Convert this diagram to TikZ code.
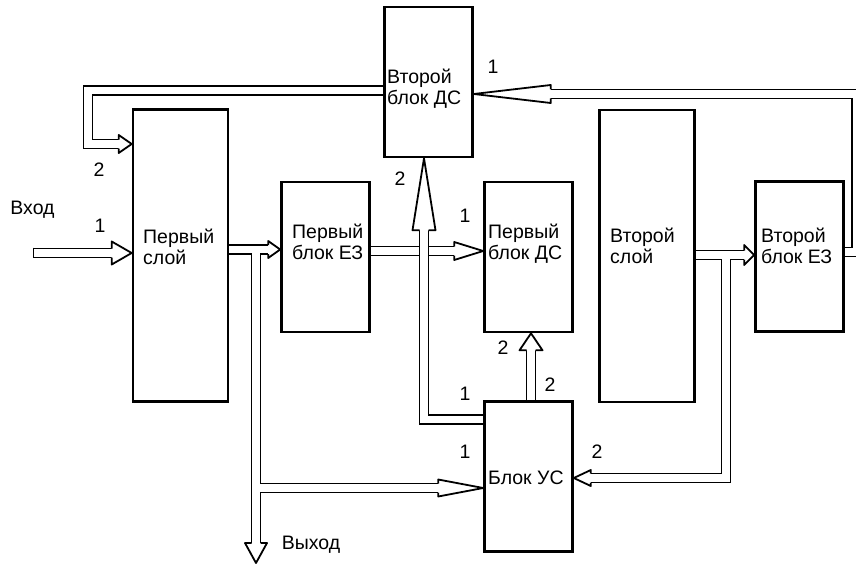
\documentclass[tikz,border=0pt]{standalone}
\usepackage{fontspec}
\setmainfont{Liberation Sans}
\usetikzlibrary{calc}

\newcommand\kanal[1]{\draw[line width=10.8pt] #1; \draw[line width=7.2pt,white] #1;}
\newcommand\golova[4]{\filldraw[kontur,fill=white,line join=round,shift={(#1)},rotate=#2] (-#3,-4.5) -- (-#3,-#4) -- (0,0) -- (-#3,#4) -- (-#3,4.5);}

\begin{document}
\begin{tikzpicture}[x=1pt,y=-1pt,
  blok/.style={draw,line width=2.6pt,minimum width=88pt,minimum height=150pt,inner sep=0pt,outer sep=1.3pt},
  sloj/.style={blok,minimum width=95pt,minimum height=292pt},
  nadp/.style={inner sep=0pt,align=left,anchor=west,font=\fontsize{19.5}{21}\selectfont},
  num/.style={inner sep=0pt,font=\fontsize{19.5}{21}\selectfont},
  kontur/.style={line width=1.8pt}]
\useasboundingbox (0,0) rectangle (856,567);
% bloki
\node[sloj] (sloy1) at (180.5,255.5) {}; \node[blok] (ez1) at (325.5,257) {}; \node[blok] (ds2) at (428.5,82) {};
\node[blok] (ds1) at (528.5,257) {}; \node[sloj] (sloy2) at (647,256) {}; \node[blok] (ez2) at (799.5,256.5) {};
\node[blok] (us) at (528.5,476.5) {};
\node[nadp] (sloy1t) at (143,246.5) {Первый\\слой};
\node[nadp] (ez1t) at (292,241.5) {Первый\\блок ЕЗ};
\node[nadp] (ds2t) at (387,88.5) {Второй\\блок ДС};
\node[nadp] (ds1t) at (488,243.5) {Первый\\блок ДС};
\node[nadp] (sloy2t) at (610,246) {Второй\\слой};
\node[nadp] (ez2t) at (761,246) {Второй\\блок ЕЗ};
\node[nadp] (ust) at (488,477.5) {Блок УС};
% tochki
\coordinate (vhod) at (33,253); \coordinate (vyhod) at (256,563);
\coordinate (t1) at (sloy1.west |- vhod); \coordinate (t2) at (sloy1.west |- 0,144);
\coordinate (t3) at (ez1.west |- 0,249.5); \coordinate (t4) at (us.west |- 0,488);
\coordinate (t5) at (ds1.west |- 0,251); \coordinate (t6) at (424,0 |- ds2.south);
\coordinate (t7) at (ds2.east |- 0,94); \coordinate (t8) at (ez2.west |- 0,255);
\coordinate (t9) at (us.east |- 0,478); \coordinate (t10) at (531,0 |- ds1.south);
% kanaly
\kanal{(vhod) -- ($(t1)+(-20,0)$)}
\draw[kontur] ($(vhod)+(0.5,-5.4)$) -- ($(vhod)+(0.5,5.4)$);
\golova{t1}{0}{20}{11.5}
\kanal{(ds2.west |- 0,90.5) -- (88,90.5) -- (88,144) -- ($(t2)+(-13,0)$)}
\golova{t2}{0}{13}{9}
\kanal{(sloy1.east |- t3) -- ($(t3)+(-12,0)$) (256,249.5) -- ($(vyhod)+(0,-20)$) (256,488) -- ($(t4)+(-45,0)$)}
\golova{t3}{0}{12}{8.5} \golova{vyhod}{270}{20}{11} \golova{t4}{0}{45}{8.5}
\kanal{(ez1.east |- t5) -- ($(t5)+(-29,0)$)}
\golova{t5}{0}{29}{9}
\kanal{(us.west |- 0,419.5) -- (424,419.5) -- ($(t6)+(0,72)$)}
\golova{t6}{90}{72}{11.5}
\kanal{(ez2.east |- 0,252) -- (856.5,252) -- (856.5,94) -- ($(t7)+(77,0)$)}
\golova{t7}{180}{77}{9}
\kanal{(sloy2.east |- t8) -- ($(t8)+(-10,0)$) (726,255) -- (726,478) -- ($(t9)+(17,0)$)}
\golova{t8}{0}{10}{10} \golova{t9}{180}{17}{8}
\kanal{(531,0 |- us.north) -- ($(t10)+(0,17)$)}
\golova{t10}{90}{17}{11.5}
% nadpisi
\node[num] (vhodt) at (32.5,210) {Вход}; \node[num] (vyhodt) at (311,545) {Выход};
\node[num] (n1) at (100,226) {1}; \node[num] (n2) at (99,170) {2};
\node[num] (n3) at (493,67) {1}; \node[num] (n4) at (400,179) {2};
\node[num] (n5) at (465,216) {1}; \node[num] (n6) at (503,348) {2};
\node[num] (n7) at (550,385) {2}; \node[num] (n8) at (465,394) {1};
\node[num] (n9) at (465,452) {1}; \node[num] (n10) at (597,452) {2};
\end{tikzpicture}
\end{document}
